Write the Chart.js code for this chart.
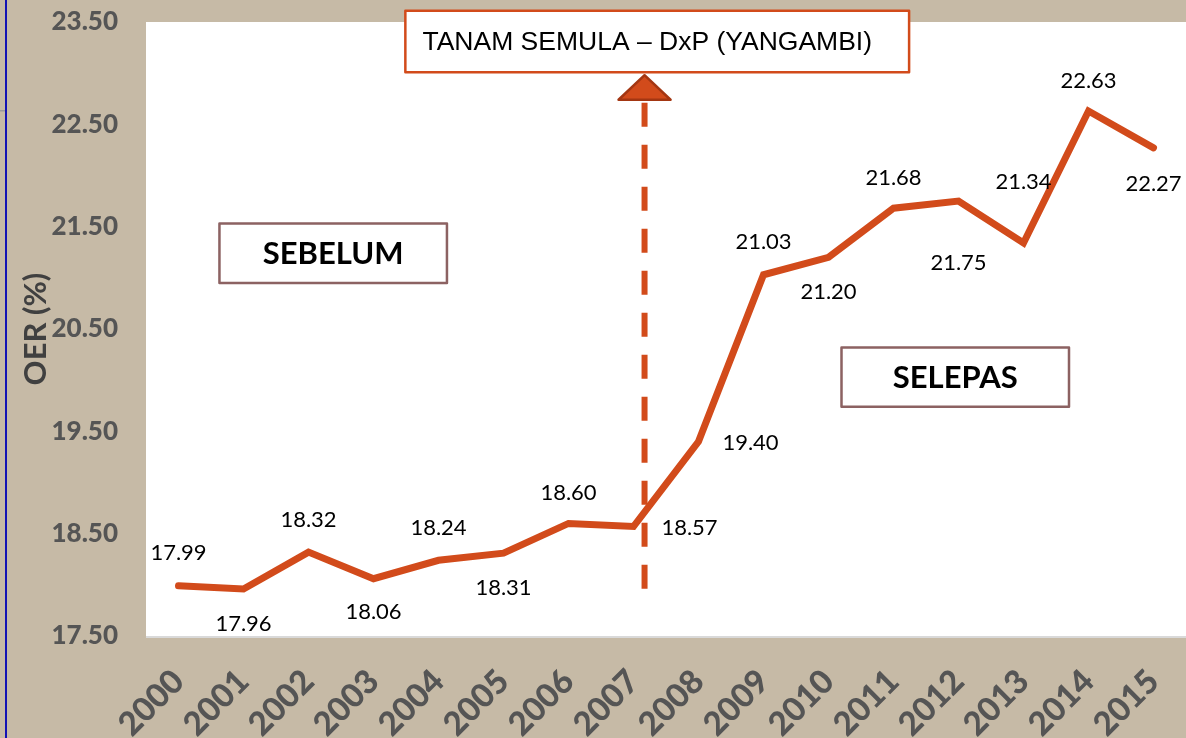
<!DOCTYPE html>
<html>
<head>
<meta charset="utf-8">
<script src="https://cdn.jsdelivr.net/npm/chart.js@4.4.1/dist/chart.umd.min.js"></script>
<style>
html,body{margin:0;padding:0;background:#c6baa6;overflow:hidden}
</style>
</head>
<body>
<canvas id="OERChartHTML" width="1186" height="738"></canvas>
<script>
//												Data
const YEARS=['2000','2001','2002','2003','2004','2005','2006','2007','2008','2009','2010','2011','2012','2013','2014','2015']
const OER=[17.99,17.96,18.32,18.06,18.24,18.31,18.60,18.57,19.40,21.03,21.20,21.68,21.75,21.34,22.63,22.27]
const Y_TICKS=[17.5,18.5,19.5,20.5,21.5,22.5,23.5]
const REPLANT_AT=7.17
const REPLANT_TEXT='TANAM SEMULA – DxP (YANGAMBI)'
const PHASES=['SEBELUM','SELEPAS']

//												Styles
const ORANGE='#d24b1b'
const TAN='#c6baa6'
const LABEL_OFFSETS=[[0,-33],[0,35],[0,-32],[0,33],[0,-32],[0,35],[0,-31],[56,1],[52,1],[0,-33],[0,35],[0,-30],[0,62],[0,-61],[0,-30],[0,36]]
const PHASE_BOXES=[{x0:0.63,x1:4.13,y0:21.53,y1:20.95},{x0:10.2,x1:13.7,y0:20.32,y1:19.74}]

//												Helper Functions
function Px(c,v){return c.scales.x.getPixelForValue(v)}
function Py(c,v){return c.scales.y.getPixelForValue(v)}
function BoxText(ctx,x0,y0,x1,y1,text,font,stroke,lw,dx){
	ctx.fillStyle='#fff';ctx.fillRect(x0,y0,x1-x0,y1-y0)
	ctx.strokeStyle=stroke;ctx.lineWidth=lw;ctx.strokeRect(x0,y0,x1-x0,y1-y0)
	ctx.fillStyle='#000';ctx.font=font;ctx.textAlign='center';ctx.textBaseline='middle'
	ctx.fillText(text,(x0+x1)/2+(dx||0),(y0+y1)/2+1)
}

const backdropPlugin={
	id:'backdrop',
	beforeDraw(c){
		const ctx=c.ctx,a=c.chartArea
		ctx.save()
		ctx.fillStyle=TAN;ctx.fillRect(0,0,c.width,c.height)
		ctx.fillStyle='#fff';ctx.fillRect(a.left,a.top,c.width-a.left,a.bottom-a.top)
		ctx.fillStyle='#d9d9d9';ctx.fillRect(a.left,a.bottom,c.width-a.left,2)
		ctx.fillStyle='#1212b4';ctx.fillRect(5,0,2,c.height)
		ctx.fillStyle='#9a9a9a';ctx.fillRect(0,110,5,1.5)
		ctx.restore()
	}
}

const annotationPlugin={
	id:'annotations',
	afterDatasetsDraw(c){
		const ctx=c.ctx
		ctx.save()
		// dashed marker line + arrow head
		const xm=Px(c,REPLANT_AT)
		ctx.strokeStyle=ORANGE;ctx.lineWidth=6;ctx.setLineDash([24,18])
		ctx.beginPath();ctx.moveTo(xm,Py(c,22.71));ctx.lineTo(xm,Py(c,17.95));ctx.stroke()
		ctx.setLineDash([])
		ctx.beginPath()
		ctx.moveTo(xm,Py(c,22.98));ctx.lineTo(xm+26,Py(c,22.74));ctx.lineTo(xm-26,Py(c,22.74));ctx.closePath()
		ctx.fillStyle=ORANGE;ctx.fill();ctx.strokeStyle='#a33612';ctx.lineWidth=2.5;ctx.lineJoin='round';ctx.stroke()
		// title box
		BoxText(ctx,Px(c,3.49),Py(c,23.61),Px(c,11.24),Py(c,23.01),REPLANT_TEXT,'26.5px "Liberation Sans", Arial',ORANGE,2.5,-10)
		// phase boxes
		PHASE_BOXES.forEach((b,i)=>BoxText(ctx,Px(c,b.x0),Py(c,b.y0),Px(c,b.x1),Py(c,b.y1),PHASES[i],'bold 31px Lato','#8c6262',2.5))
		// data labels
		const meta=c.getDatasetMeta(0)
		ctx.fillStyle='#000';ctx.font='22px Lato';ctx.textAlign='center';ctx.textBaseline='middle'
		meta.data.forEach((p,i)=>{ctx.fillText(OER[i].toFixed(2),p.x+LABEL_OFFSETS[i][0],p.y+LABEL_OFFSETS[i][1])})
		ctx.restore()
	}
}

//												Chart
let OERChart=new Chart(
	document.getElementById('OERChartHTML'),
	{
		type:'line',
		plugins:[backdropPlugin,annotationPlugin],
		data:{
			labels:YEARS,
			datasets:[{
				data:OER,
				borderColor:ORANGE,
				borderWidth:7,
				borderCapStyle:'round',
				borderJoinStyle:'miter',
				pointRadius:0,
				tension:0
			}]
		},
		options:{
			responsive:false,
			animation:false,
			layout:{padding:{top:22,right:0,left:0,bottom:0}},
			plugins:{legend:{display:false},tooltip:{enabled:false}},
			scales:{
				x:{
					offset:true,
					grid:{display:false,drawTicks:true,tickLength:26},
					border:{display:false},
					ticks:{minRotation:45,maxRotation:45,padding:0,color:'#555555',font:{family:'Lato',size:33,weight:'900'}},
					afterFit(s){s.height=102}
				},
				y:{
					min:17.5,max:23.5,
					afterBuildTicks(s){s.ticks=Y_TICKS.map(v=>({value:v}))},
					grid:{display:false,drawTicks:true,tickLength:28},
					border:{display:false},
					ticks:{padding:0,color:'#555555',font:{family:'Lato',size:26,weight:'900'},callback:v=>v.toFixed(2)},
					title:{display:true,text:'OER (%)',color:'#404040',font:{family:'Lato',size:31,weight:'bold'},padding:{top:17,bottom:0}},
					afterFit(s){s.width=146}
				}
			}
		}
	}
)
</script>
</body>
</html>
